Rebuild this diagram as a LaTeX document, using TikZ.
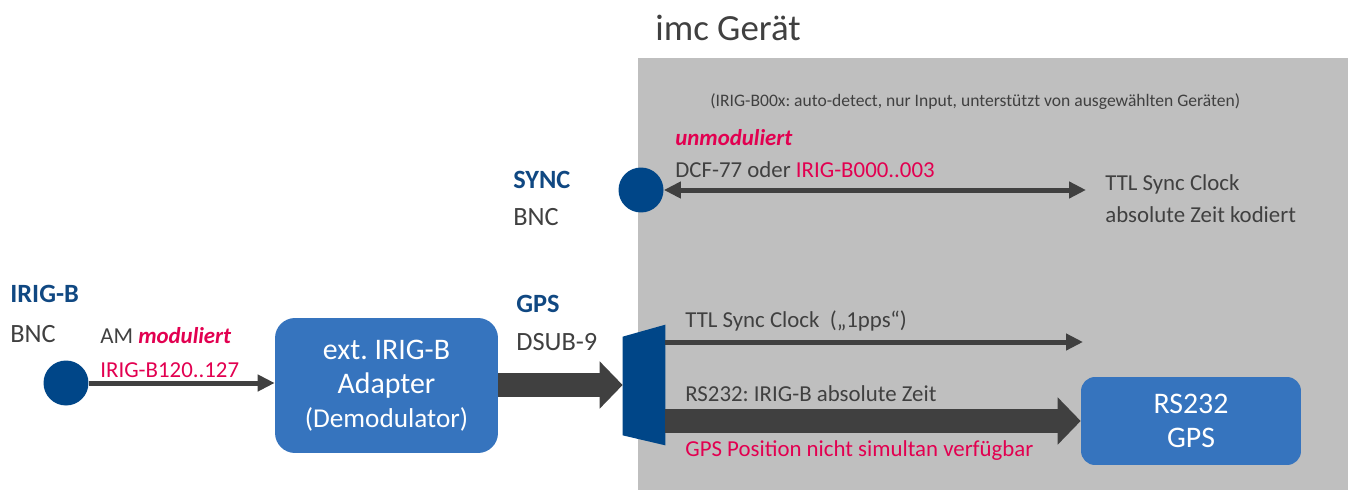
\documentclass[tikz,border=0pt]{standalone}
\usepackage{fontspec}
\setmainfont{Carlito}
\frenchspacing
\usepackage{tikz}
\usetikzlibrary{arrows.meta,calc}
\usepackage{xcolor}
\definecolor{imcblue}{RGB}{0,70,136}
\definecolor{boxblue}{RGB}{54,116,190}
\definecolor{labelblue}{RGB}{16,72,130}
\definecolor{devgrey}{RGB}{191,191,191}
\definecolor{textgrey}{RGB}{64,64,64}
\definecolor{sigred}{RGB}{226,0,80}
\tikzset{
    port/.style={
        circle,fill=imcblue,minimum size=0.9cm,inner sep=0pt
    },
    unitbox/.style={
        fill=boxblue,rounded corners=#1,text=white,align=center,
        font=\fontsize{17}{19.5}\selectfont
    },
    unitbox/.default=0.4cm,
    portname/.style={
        anchor=base west,inner sep=0pt,text=labelblue,
        font=\fontsize{15}{18}\selectfont\bfseries
    },
    porttype/.style={
        anchor=base west,inner sep=0pt,text=textgrey,
        font=\fontsize{15}{18}\selectfont
    },
    sigtext/.style={
        anchor=base west,inner sep=0pt,text=textgrey,
        font=\fontsize{13}{16}\selectfont
    },
    sigarrow/.style={
        -{Triangle[length=0.34cm,width=0.32cm]},line width=0.1cm,draw=textgrey
    },
    busarrow/.style={
        -{Triangle[length=0.46cm,width=0.92cm]},line width=0.48cm,draw=textgrey
    }
}
\begin{document}
\begin{tikzpicture}[x=0.02cm,y=-0.02cm]
\useasboundingbox (0,0) rectangle (1348,490);

\fill[devgrey] (638,58) rectangle (1348,490);
\node[anchor=base west,inner sep=0pt,text=textgrey,
font=\fontsize{21}{24}\selectfont] (title) at (655,40) {imc Gerät};
\node[anchor=base west,inner sep=0pt,text=textgrey,
font=\fontsize{10}{12}\selectfont] (note) at (710,106)
{(IRIG-B00x: auto-detect, nur Input, unterstützt von ausgewählten Geräten)};

\node[port] (syncport) at (641,190) {};
\node[portname] (syncname) at (513,188) {SYNC};
\node[porttype] (synctype) at (513,225) {BNC};
\node[sigtext,text=sigred,font=\fontsize{13}{16}\selectfont\bfseries\itshape]
(unmod) at (675,145) {unmoduliert};
\node[sigtext] (dcf) at (675,177) {DCF-77 oder \textcolor{sigred}{IRIG-B000..003}};
\coordinate (syncend) at (1086,190);
\node[sigtext] (ttlsync) at (1105,190) {TTL Sync Clock};
\node[sigtext] (abszeit) at (1105,222) {absolute Zeit kodiert};

\node[port] (irigport) at (66,383) {};
\node[portname] (irigname) at (10,302) {IRIG-B};
\node[porttype] (irigtype) at (10,342) {BNC};
\node[sigtext] (ammod) at (100,343)
{AM \textcolor{sigred}{\bfseries\itshape moduliert}};
\node[sigtext,text=sigred] (irigrange) at (100,377) {IRIG-B120..127};

\node[unitbox,minimum width=4.46cm,minimum height=2.7cm]
(adapter) at (386.5,385.5)
{ext. IRIG-B\\Adapter\\{\fontsize{15.5}{18}\selectfont(Demodulator)}};

\node[portname] (gpsname) at (516,312) {GPS};
\node[porttype] (gpstype) at (516,350) {DSUB-9};

\node[inner sep=0pt,minimum width=0.84cm,minimum height=2.4cm] (dsub) at (644,385) {};
\fill[imcblue] ($(dsub.north west)+(0,12)$) -- (dsub.north east)
-- (dsub.south east) -- ($(dsub.south west)+(0,-10)$) -- cycle;

\node[unitbox=0.28cm,minimum width=4.4cm,minimum height=1.76cm]
(gpsbox) at (1191,421) {RS232\\GPS};

\coordinate (ppsend) at (1083,342);
\node[sigtext] (ppslabel) at (685,327) {TTL Sync Clock~~(„1pps“)};
\node[sigtext] (rslabel) at (685,401) {RS232: IRIG-B absolute Zeit};
\node[sigtext,text=sigred] (poslabel) at (685,456)
{GPS Position nicht simultan verfügbar};

\draw[sigarrow,{Triangle[length=0.34cm,width=0.32cm]}-{Triangle[length=0.34cm,width=0.32cm]}]
(syncport.east) -- (syncend);
\draw[sigarrow] (irigport.east) -- (adapter.west |- irigport.east);
\draw[busarrow] (adapter.east |- dsub.west) -- (dsub.west);
\draw[sigarrow] (dsub.east |- ppsend) -- (ppsend);
\draw[busarrow] (dsub.east |- gpsbox.west) -- (gpsbox.west);

\end{tikzpicture}
\end{document}
